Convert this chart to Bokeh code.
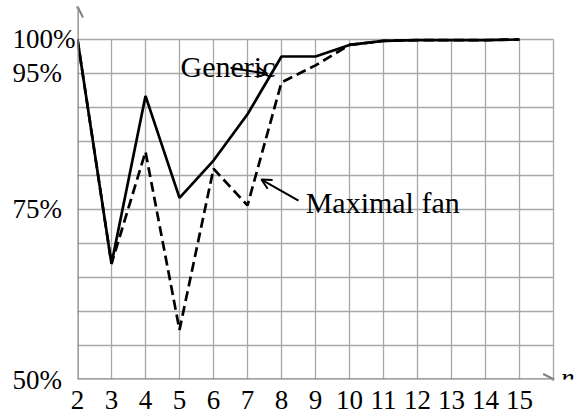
from bokeh.plotting import figure
from bokeh.models import Range1d, FixedTicker, Arrow, OpenHead, ColumnDataSource, Label
from bokeh.core.properties import value
from bokeh.embed import file_html
from bokeh.resources import INLINE

# ---- data ----
n_values = [2, 3, 4, 5, 6, 7, 8, 9, 10, 11, 12, 13, 14, 15]
generic = [100, 67, 91.7, 76.7, 82.2, 89, 97.5, 97.5, 99.2, 99.8, 99.9, 99.9, 99.9, 100]
maximal_fan = [100, 67, 83.5, 57.3, 81, 75.6, 93.7, 96.2, 99.2, 99.8, 99.9, 99.9, 99.9, 100]
x_ticks = n_values
y_ticks = [50, 75, 95, 100]
y_tick_labels = ["50%", "75%", "95%", "100%"]
grid_x = list(range(3, 17))
grid_y = list(range(55, 101, 5))
label_generic = "Generic"
label_maximal = "Maximal fan"
axis_name = "n"

SERIF = "Liberation Serif"
GRID_COLOR = "#a8a8a8"
AXIS_COLOR = "#808080"

p = figure(width=587, height=414, output_backend="svg", toolbar_location=None,
           x_range=Range1d(2, 17), y_range=Range1d(50, 105.735),
           min_border_left=77, min_border_right=0, min_border_top=0, min_border_bottom=35)
p.outline_line_color = None
p.xgrid.visible = False
p.ygrid.visible = False
p.background_fill_color = "white"
p.border_fill_color = "white"

# grid (from tick lists)
x0, x1 = n_values[0], grid_x[-1]
y0, y1 = y_ticks[0], y_ticks[-1]
p.segment(x0=grid_x, y0=[y0] * len(grid_x), x1=grid_x, y1=[y1] * len(grid_x),
          line_color=GRID_COLOR, line_width=1.3)
p.segment(x0=[x0] * len(grid_y), y0=grid_y, x1=[x1] * len(grid_y), y1=grid_y,
          line_color=GRID_COLOR, line_width=1.3)

# axes with arrowheads
p.add_layout(Arrow(x_start=x0, y_start=y0, x_end=16.02, y_end=y0,
                   line_color=AXIS_COLOR, line_width=2.5,
                   end=OpenHead(size=11, line_color=AXIS_COLOR, line_width=2)))
p.add_layout(Arrow(x_start=x0, y_start=y0, x_end=x0, y_end=104.85,
                   line_color=AXIS_COLOR, line_width=2.5,
                   end=OpenHead(size=11, line_color=AXIS_COLOR, line_width=2)))

# series
src = ColumnDataSource(dict(n=n_values, generic=generic, maximal=maximal_fan))
p.line("n", "maximal", source=src, line_color="black", line_width=2.7, line_dash="10 5")
p.line("n", "generic", source=src, line_color="black", line_width=2.7)

# annotations
p.text(x=[5.03], y=[96.1], text=[label_generic], text_font=value(SERIF),
       text_font_size="30px", text_align="left", text_baseline="alphabetic", text_color="black")
p.text(x=[8.71], y=[75.99], text=[label_maximal], text_font=value(SERIF),
       text_font_size="30px", text_align="left", text_baseline="alphabetic", text_color="black")
p.add_layout(Arrow(x_start=6.5, y_start=95.84, x_end=7.58, y_end=94.96,
                   line_color="black", line_width=2,
                   end=OpenHead(size=10, line_color="black", line_width=2)))
p.add_layout(Arrow(x_start=8.5, y_start=76.32, x_end=7.41, y_end=79.41,
                   line_color="black", line_width=2,
                   end=OpenHead(size=10, line_color="black", line_width=2)))
p.add_layout(Label(x=16.22, y=50.2, text=axis_name, text_font=SERIF, text_font_style="italic",
                   text_font_size="27px", text_align="left", text_baseline="alphabetic",
                   text_color="black"))

# axis tick labels
for ax in (p.xaxis[0], p.yaxis[0]):
    ax.axis_line_color = None
    ax.major_tick_line_color = None
    ax.minor_tick_line_color = None
    ax.major_label_text_font = SERIF
    ax.major_label_text_font_size = "27px"
    ax.major_label_text_color = "black"

p.xaxis[0].ticker = FixedTicker(ticks=x_ticks)
p.xaxis[0].major_label_standoff = 5
p.yaxis[0].ticker = FixedTicker(ticks=y_ticks)
p.yaxis[0].major_label_standoff = -4
p.yaxis[0].major_label_overrides = {
    t: lab + "\u00a0\u00a0" * (4 - len(lab)) for t, lab in zip(y_ticks, y_tick_labels)
}

open("out.html", "w").write(file_html(p, INLINE))
